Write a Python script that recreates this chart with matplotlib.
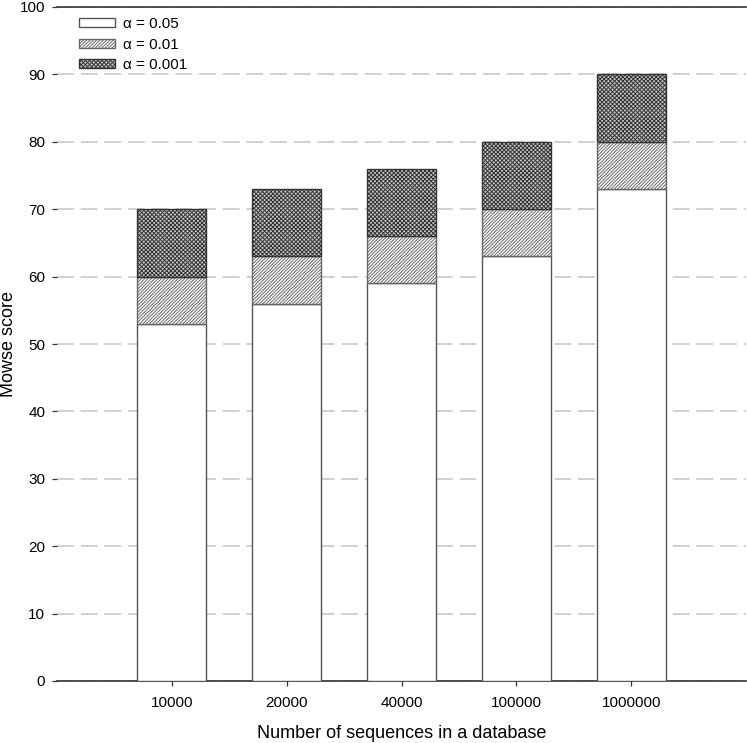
import numpy as np
import matplotlib
matplotlib.use('Agg')
import matplotlib.pyplot as plt

plt.rcParams['font.family'] = ['Liberation Sans', 'DejaVu Sans']
plt.rcParams['hatch.linewidth'] = 0.7

# data
categories = ['10000', '20000', '40000', '100000', '1000000']
score_005 = [53, 56, 59, 63, 73]
score_001 = [60, 63, 66, 70, 80]
score_0001 = [70, 73, 76, 80, 90]
labels = [u'\u03b1 = 0.05', u'\u03b1 = 0.01', u'\u03b1 = 0.001']

x = np.arange(len(categories))
s1 = np.array(score_005)
s2 = np.array(score_001) - s1
s3 = np.array(score_0001) - np.array(score_001)

fig = plt.figure(figsize=(7.47, 7.43), dpi=100)
ax = fig.add_axes([57 / 747, 62 / 743, 689 / 747, 674 / 743])

w = 0.6
ax.bar(x, s1, w, color='white', edgecolor='#555555', linewidth=1.0,
       label=labels[0], zorder=3)
ax.bar(x, s2, w, bottom=s1, color='white', edgecolor='#666666', linewidth=1.0,
       hatch='/' * 10, label=labels[1], zorder=3)
ax.bar(x, s3, w, bottom=s1 + s2, color='#c8c8c8', edgecolor='#333333', linewidth=1.0,
       hatch='x' * 8, label=labels[2], zorder=3)

ax.set_xlim(-1.0, 5.0)
ax.set_ylim(0, 100)
ax.set_yticks(np.arange(0, 101, 10))
ax.set_xticks(x)
ax.set_xticklabels(categories)

ax.yaxis.grid(True, color='#c4c4c4', linestyle=(0, (11, 4.5)), linewidth=1.1, zorder=0)
ax.spines['left'].set_visible(False)
ax.spines['right'].set_visible(False)
for sp in ['top', 'bottom']:
    ax.spines[sp].set_color('#333333')
    ax.spines[sp].set_linewidth(1.2)
ax.tick_params(axis='both', direction='out', length=3.5, width=0.9, colors='#333333',
               labelcolor='black', labelsize=11)
ax.tick_params(axis='x', pad=7)
ax.tick_params(axis='y', pad=5)

ax.set_xlabel('Number of sequences in a database', fontsize=13, va='baseline')
ax.xaxis.set_label_coords(0.5, -0.085)
ax.set_ylabel('Mowse score', fontsize=13, va='center')
ax.yaxis.set_label_coords(-0.071, 0.5)

ax.legend(loc='upper left', bbox_to_anchor=(0.032, 0.985), frameon=False, fontsize=11,
          handlelength=2.36, handleheight=0.55, handletextpad=0.52,
          labelspacing=0.42, borderpad=0, borderaxespad=0)

fig.savefig('out.png', dpi=100)
